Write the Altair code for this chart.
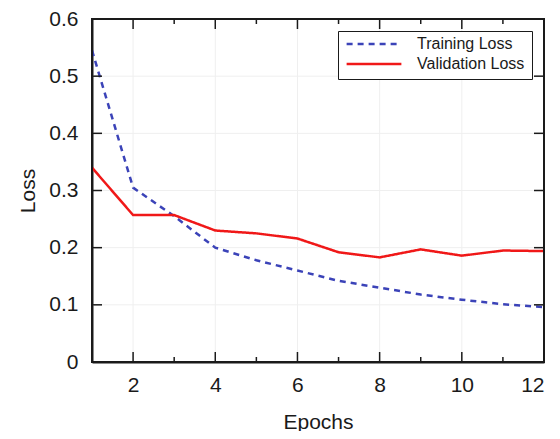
import altair as alt
import pandas as pd

epochs = list(range(1, 13))
train_loss = [0.545, 0.305, 0.255, 0.2, 0.178, 0.16, 0.142, 0.13, 0.118, 0.109, 0.101, 0.096]
val_loss = [0.34, 0.257, 0.257, 0.23, 0.225, 0.216, 0.192, 0.183, 0.197, 0.186, 0.195, 0.194]
series = ["Training Loss", "Validation Loss"]
x_major = [2, 4, 6, 8, 10, 12]
x_minor = [3, 5, 7, 9, 11]
y_ticks = [0, 0.1, 0.2, 0.3, 0.4, 0.5, 0.6]
y_inner = [0.1, 0.2, 0.3, 0.4, 0.5]
x_edges = [1, 12]
y_edges = [0, 0.6]

df = pd.DataFrame({
    "Epochs": epochs * 2,
    "Loss": train_loss + val_loss,
    "Series": [series[0]] * len(epochs) + [series[1]] * len(epochs),
})
xmaj = pd.DataFrame({"Epochs": x_major})
xmin = pd.DataFrame({"Epochs": x_minor})
yt = pd.DataFrame({"Loss": y_inner})
xe = pd.DataFrame({"Epochs": x_edges})
ye = pd.DataFrame({"Loss": y_edges})

W, H = 452, 343
FONT = "Liberation Sans"
INK = "#1a1a1a"
xs = alt.Scale(domain=[1, 12], nice=False, zero=False)
ys = alt.Scale(domain=[0, 0.6], nice=False)

leg = alt.Legend(title=None, orient="top-right", offset=12,
                 labelFontSize=16, labelFont=FONT, labelColor=INK,
                 symbolType="stroke", symbolSize=3000, symbolStrokeWidth=2.5,
                 clipHeight=12, strokeColor=INK, fillColor="white", padding=7,
                 rowPadding=4, labelOffset=14)

gx = alt.Chart(xmaj).mark_rule(color="#efefef", strokeWidth=1).encode(
    x=alt.X("Epochs:Q", scale=xs))
gy = alt.Chart(yt).mark_rule(color="#efefef", strokeWidth=1).encode(
    y=alt.Y("Loss:Q", scale=ys))

main = alt.Chart(df).mark_line(strokeWidth=2.5).encode(
    x=alt.X("Epochs:Q", scale=xs,
            axis=alt.Axis(values=x_major, title="Epochs", labelFontSize=21, titleFontSize=21,
                          labelFont=FONT, titleFont=FONT, labelColor=INK, titleColor=INK,
                          titleFontWeight="normal", ticks=False, domain=True,
                          domainColor=INK, domainWidth=2,
                          labelPadding=12, titlePadding=16, grid=False)),
    y=alt.Y("Loss:Q", scale=ys,
            axis=alt.Axis(values=y_ticks, title="Loss", labelFontSize=21, titleFontSize=21,
                          labelFont=FONT, titleFont=FONT, labelColor=INK, titleColor=INK,
                          titleFontWeight="normal", ticks=False, domain=True,
                          domainColor=INK, domainWidth=2,
                          labelPadding=14, titlePadding=10, grid=False,
                          labelExpr="datum.value == 0 ? '0' : format(datum.value, '.1f')")),
    color=alt.Color("Series:N", scale=alt.Scale(domain=series, range=["#3b43b8", "#f01818"]),
                    legend=leg),
    strokeDash=alt.StrokeDash("Series:N", scale=alt.Scale(domain=series, range=[[6, 5], [1, 0]]),
                              legend=leg),
)

# frame edges on the top and right
frame_x = alt.Chart(xe).mark_rule(color=INK, strokeWidth=2).encode(
    x=alt.X("Epochs:Q", scale=xs))
frame_y = alt.Chart(ye).mark_rule(color=INK, strokeWidth=2).encode(
    y=alt.Y("Loss:Q", scale=ys))

def xticks(data, y0, y1):
    return alt.Chart(data).mark_rule(color=INK, strokeWidth=1.5).encode(
        x=alt.X("Epochs:Q", scale=xs), y=alt.value(y0), y2=alt.value(y1))

def yticks(x0, x1):
    return alt.Chart(yt).mark_rule(color=INK, strokeWidth=1.5).encode(
        y=alt.Y("Loss:Q", scale=ys), x=alt.value(x0), x2=alt.value(x1))

ticks = [
    xticks(xmaj, H, H - 10), xticks(xmin, H, H - 5),
    xticks(xmaj, 0, 10), xticks(xmin, 0, 5),
    yticks(0, 10), yticks(W, W - 10),
]

chart = alt.layer(gx, gy, main, frame_x, frame_y, *ticks).properties(
    width=W, height=H,
    background="white",
    autosize=alt.AutoSizeParams(type="none"),
    padding={"left": 84, "top": 11, "right": 8, "bottom": 69},
).configure_view(stroke=INK, strokeWidth=2)

chart.save("out.html", embed_options={"renderer": "svg", "actions": False})
